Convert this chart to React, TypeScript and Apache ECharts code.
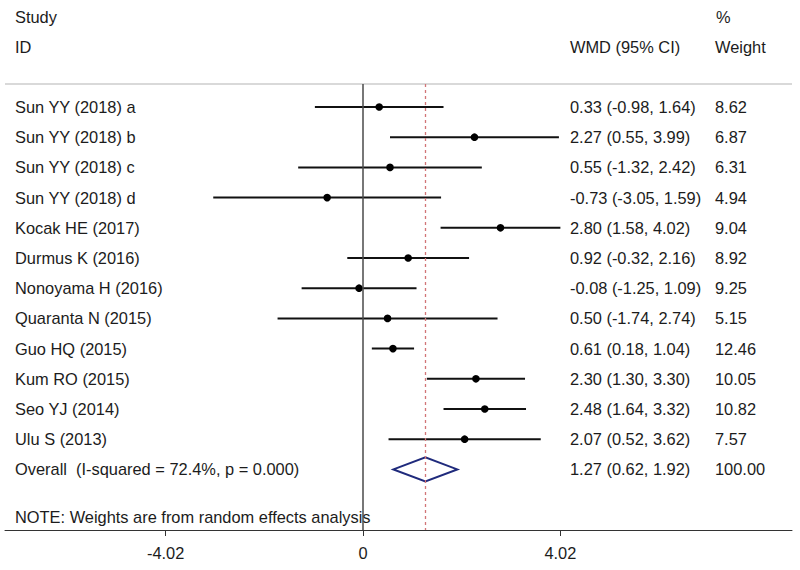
import React, { useEffect, useRef } from "react";
import * as echarts from "echarts";

const studies = [
  "Sun YY (2018) a",
  "Sun YY (2018) b",
  "Sun YY (2018) c",
  "Sun YY (2018) d",
  "Kocak HE (2017)",
  "Durmus K (2016)",
  "Nonoyama H (2016)",
  "Quaranta N (2015)",
  "Guo HQ (2015)",
  "Kum RO (2015)",
  "Seo YJ (2014)",
  "Ulu S (2013)",
];
const wmd = [0.33, 2.27, 0.55, -0.73, 2.8, 0.92, -0.08, 0.5, 0.61, 2.3, 2.48, 2.07];
const lower = [-0.98, 0.55, -1.32, -3.05, 1.58, -0.32, -1.25, -1.74, 0.18, 1.3, 1.64, 0.52];
const upper = [1.64, 3.99, 2.42, 1.59, 4.02, 2.16, 1.09, 2.74, 1.04, 3.3, 3.32, 3.62];
const weights = ["8.62", "6.87", "6.31", "4.94", "9.04", "8.92", "9.25", "5.15", "12.46", "10.05", "10.82", "7.57"];

const overallLabel = "Overall  (I-squared = 72.4%, p = 0.000)";
const overallEst = 1.27;
const overallLower = 0.62;
const overallUpper = 1.92;
const overallWeight = "100.00";
const noteText = "NOTE: Weights are from random effects analysis";
const tickValues = [-4.02, 0, 4.02];

const FONT = '"Liberation Sans", Arial, sans-serif';
const TXT = "#1c1c1c";
const FS = 16.4;

export default function App() {
  const ref = useRef<HTMLDivElement>(null);
  useEffect(() => {
    if (!ref.current) return;
    const chart = echarts.init(ref.current, undefined, { renderer: "svg" });
    const fmt = (v: number) => v.toFixed(2);
    const rows = studies.map((s, i) => ({
      name: s,
      value: [wmd[i], lower[i], upper[i], i],
      ci: `${fmt(wmd[i])} (${fmt(lower[i])}, ${fmt(upper[i])})`,
      weight: weights[i],
      overall: false,
    }));
    rows.push({
      name: overallLabel,
      value: [overallEst, overallLower, overallUpper, studies.length],
      ci: `${fmt(overallEst)} (${fmt(overallLower)}, ${fmt(overallUpper)})`,
      weight: overallWeight,
      overall: true,
    });

    const txt = (text: string, x: number, y: number) => ({
      type: "text",
      x,
      y,
      style: { text, fill: TXT, fontSize: FS, fontFamily: FONT, align: "left", verticalAlign: "middle" },
    });

    const option: any = {
      animation: false,
      grid: { left: 5, right: 8, top: 84, bottom: 40 },
      xAxis: {
        type: "value",
        min: -7.291,
        max: 8.737,
        splitLine: { show: false },
        axisLine: { show: true, onZero: false, lineStyle: { color: "#333", width: 1 } },
        axisTick: { show: true, customValues: tickValues, length: 6, lineStyle: { color: "#333" } },
        axisLabel: {
          customValues: tickValues,
          formatter: (v: number) => (v === 0 ? "0" : v.toFixed(2)),
          fontSize: FS,
          fontFamily: FONT,
          color: TXT,
          margin: 15,
        },
      },
      yAxis: {
        type: "value",
        inverse: true,
        min: -0.762,
        max: 14.007,
        show: false,
      },
      graphic: [
        { type: "line", shape: { x1: 5, y1: 84, x2: 792, y2: 84 }, style: { stroke: "#cccccc", lineWidth: 1.5 } },
        txt("Study", 15, 17),
        txt("ID", 15, 47),
        txt("WMD (95% CI)", 570, 47),
        txt("%", 716, 17),
        txt("Weight", 715, 47),
        txt(noteText, 15, 517),
      ],
      series: [
        {
          type: "custom",
          data: rows.map((r) => r.value),
          renderItem: (params: any, api: any) => {
            const r = rows[params.dataIndex];
            const est = api.value(0);
            const lo = api.value(1);
            const hi = api.value(2);
            const idx = api.value(3);
            const pe = api.coord([est, idx]);
            const pl = api.coord([lo, idx]);
            const ph = api.coord([hi, idx]);
            const y = pe[1];
            const children: any[] = [];
            if (r.overall) {
              const h = 12;
              children.push({
                type: "polygon",
                shape: { points: [[pl[0], y], [pe[0], y - h], [ph[0], y], [pe[0], y + h]] },
                style: { fill: "none", stroke: "#1f2a7c", lineWidth: 2 },
              });
            } else {
              children.push({
                type: "line",
                shape: { x1: pl[0], y1: y, x2: ph[0], y2: y },
                style: { stroke: "#111", lineWidth: 2 },
              });
              children.push({
                type: "circle",
                shape: { cx: pe[0], cy: y, r: 3.8 },
                style: { fill: "#000" },
              });
            }
            children.push(txt(r.name, 15, y));
            children.push(txt(r.ci, 570, y));
            children.push(txt(r.weight, 715, y));
            return { type: "group", children };
          },
          markLine: {
            silent: true,
            symbol: "none",
            label: { show: false },
            data: [
              { xAxis: 0, lineStyle: { color: "#4a4a4a", width: 1.5, type: "solid" } },
              { xAxis: overallEst, lineStyle: { color: "#d27577", width: 1.3, type: [3, 3] } },
            ],
          },
        },
      ],
    };
    chart.setOption(option);
    return () => chart.dispose();
  }, []);
  return (
    <div
      ref={ref}
      style={{ position: "fixed", left: 0, top: 0, width: 800, height: 570, background: "#fff" }}
    />
  );
}
